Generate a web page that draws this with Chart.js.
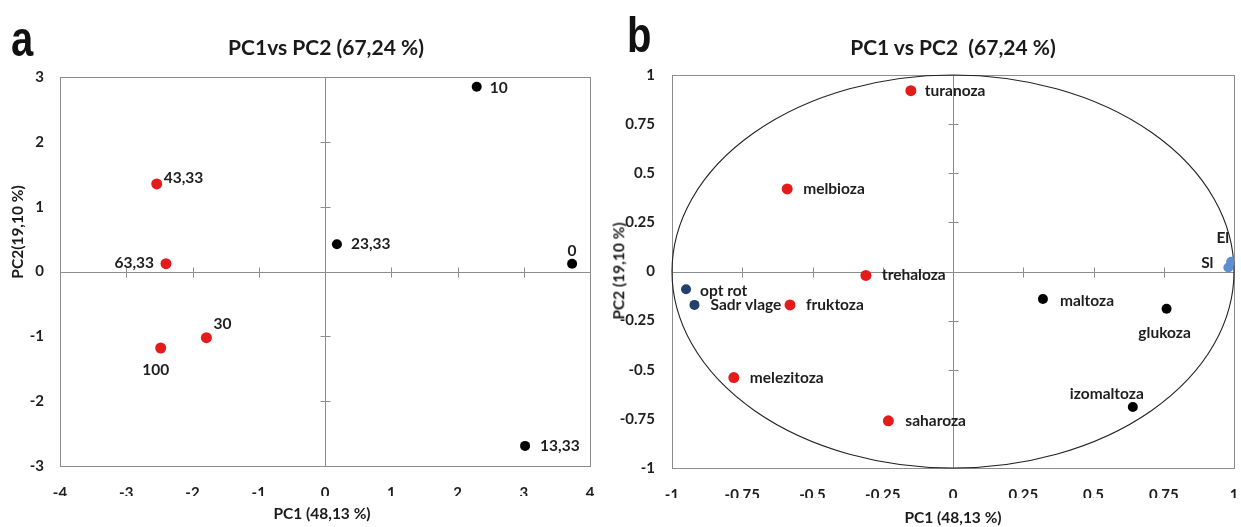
<!DOCTYPE html>
<html><head><meta charset="utf-8">
<script src="https://cdn.jsdelivr.net/npm/chart.js@4.4.0/dist/chart.umd.min.js"></script>
<style>
body{margin:0;background:#fff;width:1241px;height:527px;overflow:hidden;position:relative;font-family:Lato,'DejaVu Sans',sans-serif;}
.wrap{position:absolute;top:0;height:527px;}
#wa{left:0;width:620px}
#wb{left:620px;width:621px}
.t{position:absolute;font-weight:bold;color:#1a1a1a;white-space:nowrap;line-height:1;}
.c{transform:translate(-50%,-50%);}
.r{transform:translate(-50%,-50%) rotate(-90deg);}
.p{font-family:'Liberation Sans',Arial,sans-serif;font-size:50px;transform-origin:0 0;transform:scaleX(0.8);color:#111;}
</style></head>
<body>
<div class="wrap" id="wa"><canvas id="ca" width="620" height="527"></canvas></div>
<div class="wrap" id="wb"><canvas id="cb" width="621" height="527"></canvas></div>
<div class="t p" style="left:11px;top:14px">a</div>
<div class="t p" style="left:627px;top:10px">b</div>
<div class="t c" style="left:326px;top:46px;font-size:21px">PC1vs PC2 (67,24 %)</div>
<div class="t c" style="left:953px;top:46px;font-size:21px">PC1 vs PC2&nbsp; (67,24 %)</div>
<div class="t c" style="left:322px;top:514px;font-size:15.5px">PC1 (48,13 %)</div>
<div class="t c" style="left:953px;top:518px;font-size:15.5px">PC1 (48,13 %)</div>
<div class="t r" style="left:18px;top:232px;font-size:15.5px">PC2(19,10 %)</div>
<div class="t r" style="left:619px;top:271px;font-size:15.5px">PC2 (19,10 %)</div>
<script>
// ---------- Panel a: sample scores ----------
const aBlackNames = ['10', '23,33', '0', '13,33'];
const aBlackPC1 = [2.29, 0.18, 3.73, 3.02];
const aBlackPC2 = [2.85, 0.42, 0.12, -2.69];
const aRedNames = ['43,33', '63,33', '30', '100'];
const aRedPC1 = [-2.54, -2.40, -1.79, -2.48];
const aRedPC2 = [1.35, 0.12, -1.02, -1.18];
const aTicksX = [-4, -3, -2, -1, 0, 1, 2, 3, 4];
const aTicksY = [-3, -2, -1, 0, 1, 2, 3];

// ---------- Panel b: variable loadings ----------
const bRedNames = ['turanoza', 'melbioza', 'trehaloza', 'fruktoza', 'melezitoza', 'saharoza'];
const bRedPC1 = [-0.15, -0.59, -0.31, -0.58, -0.78, -0.23];
const bRedPC2 = [0.92, 0.42, -0.02, -0.17, -0.54, -0.76];
const bBlackNames = ['maltoza', 'glukoza', 'izomaltoza'];
const bBlackPC1 = [0.32, 0.76, 0.64];
const bBlackPC2 = [-0.14, -0.19, -0.69];
const bNavyNames = ['opt rot', 'Sadr vlage'];
const bNavyPC1 = [-0.95, -0.92];
const bNavyPC2 = [-0.09, -0.17];
const bBlueNames = ['El', 'Sl'];
const bBluePC1 = [0.99, 0.98];
const bBluePC2 = [0.05, 0.02];
const bTicksX = ['-1', '-0.75', '-0.5', '-0.25', '0', '0.25', '0.5', '0.75', '1'];
const bTicksY = ['-1', '-0.75', '-0.5', '-0.25', '0', '0.25', '0.5', '0.75', '1'];

// ---------- label placement (style only: dx, dy, align) ----------
const aBlackLbl = [[13,1,'left'],[14,0,'left'],[0,-13,'center'],[15,0,'left']];
const aRedLbl = [[7,-6,'left'],[-12,-1,'right'],[7,-14,'left'],[-5,22,'center']];
const bRedLbl = [[14,0,'left'],[16,0,'left'],[16,0,'left'],[16,0,'left'],[16,0,'left'],[17,0,'left']];
const bBlackLbl = [[17,2,'left'],[-2,24,'center'],[-26,-13,'center']];
const bNavyLbl = [[14,2,'left'],[16,0,'left']];
const bBlueLbl = [[-2,-24,'right'],[-15,-5,'right']];

const pts = (xs, ys) => xs.map((x, i) => ({x, y: ys[i]}));
const FONT = 'Lato, "DejaVu Sans", sans-serif';
const TXT = '#1e1e1e';

const framePlugin = {
  id: 'frame',
  beforeDatasetsDraw(chart, args, opts) {
    const {ctx, chartArea: a, scales: {x, y}} = chart;
    ctx.save();
    ctx.strokeStyle = '#8c8c8c';
    ctx.lineWidth = 1;
    ctx.strokeRect(Math.round(a.left) + 0.5, Math.round(a.top) + 0.5, Math.round(a.right - a.left), Math.round(a.bottom - a.top));
    const x0 = Math.round(x.getPixelForValue(0)) + 0.5;
    const y0 = Math.round(y.getPixelForValue(0)) + 0.5;
    ctx.beginPath();
    ctx.moveTo(x0, a.top); ctx.lineTo(x0, a.bottom);
    ctx.moveTo(a.left, y0); ctx.lineTo(a.right, y0);
    x.ticks.forEach(t => {
      if (t.value === 0 || t.value === x.min || t.value === x.max) return;
      const px = Math.round(x.getPixelForValue(t.value)) + 0.5;
      ctx.moveTo(px, y0 - 5); ctx.lineTo(px, y0 + 5);
    });
    y.ticks.forEach(t => {
      if (t.value === 0 || t.value === y.min || t.value === y.max) return;
      const py = Math.round(y.getPixelForValue(t.value)) + 0.5;
      ctx.moveTo(x0 - 5, py); ctx.lineTo(x0 + 5, py);
    });
    ctx.stroke();
    if (opts.circle) {
      const cx = x.getPixelForValue(0), cy = y.getPixelForValue(0);
      const rx = x.getPixelForValue(1) - cx, ry = cy - y.getPixelForValue(1);
      ctx.beginPath();
      ctx.ellipse(cx, cy, rx, ry, 0, 0, Math.PI * 2);
      ctx.strokeStyle = '#222';
      ctx.lineWidth = 1.1;
      ctx.stroke();
    }
    ctx.restore();
  },
  afterDatasetsDraw(chart) {
    const ctx = chart.ctx;
    ctx.save();
    ctx.font = 'bold 15.5px ' + FONT;
    ctx.fillStyle = TXT;
    ctx.textBaseline = 'middle';
    chart.data.datasets.forEach((ds, di) => {
      const meta = chart.getDatasetMeta(di);
      meta.data.forEach((el, i) => {
        const [dx, dy, al] = ds.lbl[i];
        ctx.textAlign = al;
        ctx.fillText(ds.names[i], el.x + dx, el.y + dy);
      });
    });
    ctx.restore();
  }
};

function ds(names, xs, ys, lbl, color, r) {
  return {data: pts(xs, ys), names, lbl, backgroundColor: color, borderColor: color,
          borderWidth: 0, pointRadius: r, pointHoverRadius: r};
}

// x axes: offset labels with an invisible tick length (keeps edge padding small);
// y axes: offset labels with tick padding
function axis(min, max, step, labels, gap, fit, isX) {
  return {
    type: 'linear', min, max,
    ticks: {stepSize: step, padding: isX ? 0 : gap, color: TXT, font: {family: FONT, size: 15, weight: 'bold'},
            callback: (v) => { const i = Math.round((v - min) / step); return labels[i]; }},
    grid: {display: false, drawTicks: isX, tickLength: isX ? gap : 0},
    border: {display: false},
    afterFit: (s) => { if (isX) s.height = fit; else s.width = fit; }
  };
}

// make the plot area land exactly on the wanted box
function fitArea(chart, want) {
  for (let k = 0; k < 4; k++) {
    const a = chart.chartArea, p = chart.config.options.layout.padding;
    const dl = want.left - a.left, dr = a.right - want.right, dt = want.top - a.top, db = a.bottom - want.bottom;
    if (Math.abs(dl) + Math.abs(dr) + Math.abs(dt) + Math.abs(db) < 0.5) break;
    chart.config.options.layout.padding = {
      left: p.left + dl, right: p.right + dr, top: p.top + dt, bottom: p.bottom + db
    };
    chart.update('none');
  }
}

const chartA = new Chart(document.getElementById('ca'), {
  type: 'scatter',
  data: {datasets: [
    ds(aBlackNames, aBlackPC1, aBlackPC2, aBlackLbl, '#000000', 5),
    ds(aRedNames, aRedPC1, aRedPC2, aRedLbl, '#e31b1b', 5.5)
  ]},
  options: {
    responsive: false, animation: false, devicePixelRatio: 1,
    layout: {padding: {left: 0, right: 30, top: 77, bottom: 31}},
    plugins: {legend: {display: false}, tooltip: {enabled: false}, frame: {circle: false}},
    scales: {
      x: axis(-4, 4, 1, aTicksX.map(String), 18, 30, true),
      y: axis(-3, 3, 1, aTicksY.map(String), 16, 60, false)
    }
  },
  plugins: [framePlugin]
});
fitArea(chartA, {left: 60, right: 590, top: 77, bottom: 466});

const chartB = new Chart(document.getElementById('cb'), {
  type: 'scatter',
  data: {datasets: [
    ds(bRedNames, bRedPC1, bRedPC2, bRedLbl, '#e31b1b', 5.5),
    ds(bBlackNames, bBlackPC1, bBlackPC2, bBlackLbl, '#000000', 5),
    ds(bNavyNames, bNavyPC1, bNavyPC2, bNavyLbl, '#23406e', 5),
    ds(bBlueNames, bBluePC1, bBluePC2, bBlueLbl, '#5d8ed2', 5)
  ]},
  options: {
    responsive: false, animation: false, devicePixelRatio: 1,
    layout: {padding: {left: 0, right: 7, top: 75, bottom: 29}},
    plugins: {legend: {display: false}, tooltip: {enabled: false}, frame: {circle: true}},
    scales: {
      x: axis(-1, 1, 0.25, bTicksX, 18, 30, true),
      y: axis(-1, 1, 0.25, bTicksY, 17, 52, false)
    }
  },
  plugins: [framePlugin]
});
fitArea(chartB, {left: 52, right: 614, top: 75, bottom: 468});
</script>
</body></html>
